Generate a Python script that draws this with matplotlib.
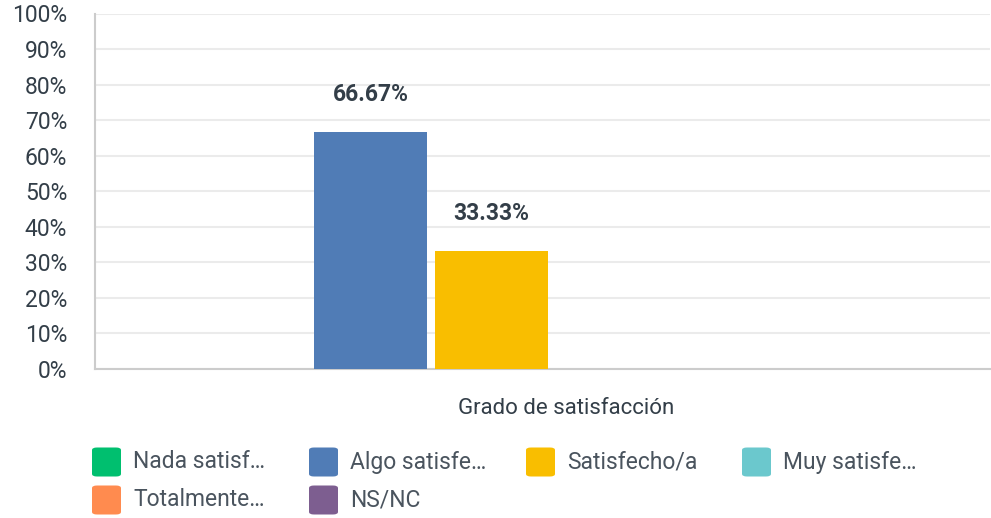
import numpy as np
import matplotlib.pyplot as plt
from matplotlib.patches import FancyBboxPatch

plt.rcParams['font.family'] = ['Roboto', 'DejaVu Sans']

category = 'Grado de satisfacción'
series = ['Nada satisf…', 'Algo satisfe…', 'Satisfecho/a', 'Muy satisfe…',
          'Totalmente…', 'NS/NC']
values = [0.0, 66.67, 33.33, 0.0, 0.0, 0.0]
colors = ['#00bf6f', '#507cb6', '#f9be00', '#6bc8cd', '#ff8b4f', '#7d5e90']
yticks = np.arange(0, 101, 10)

text_col = '#333e48'

fig = plt.figure(figsize=(9.91, 5.18), dpi=100)
ax = fig.add_axes([95 / 991, 1 - 369 / 518, 895 / 991, (369 - 13.5) / 518])

n = len(series)
offsets = np.arange(n) - (n - 1) / 2
width = 0.934
for off, v, c in zip(offsets, values, colors):
    ax.bar(off, v, width=width, color=c, zorder=3)
    if v > 0:
        ax.text(off, v + 10.5, f'{v:.2f}%', ha='center', va='center',
                fontsize=16.5, fontweight='bold', color=text_col)

ax.set_xlim(-3.777, 3.62)
ax.set_ylim(0, 100)
ax.set_yticks(yticks)
ax.set_yticklabels([f'{t}%' for t in yticks], fontsize=16.5, color=text_col)
ax.tick_params(axis='y', length=0, pad=20)
ax.set_xticks([])
ax.grid(axis='y', color='#ebebeb', linewidth=1.5, zorder=0)
for s in ['top', 'right']:
    ax.spines[s].set_visible(False)
for s in ['left', 'bottom']:
    ax.spines[s].set_color('#cccccc')
    ax.spines[s].set_linewidth(1.5)

fig.text(566 / 991, 1 - 408 / 518, category, ha='center', va='center',
         fontsize=16, color=text_col)

# legend: 4 columns, rounded squares
col_x = [92, 309, 526, 742]
row_y = [462, 500]
sq = 29
for i, (name, c) in enumerate(zip(series, colors)):
    x = col_x[i % 4]
    y = row_y[i // 4]
    box = FancyBboxPatch((x / 991, (518 - y - sq / 2) / 518), sq / 991, sq / 518,
                         boxstyle='round,pad=0,rounding_size=0.005',
                         transform=fig.transFigure, facecolor=c,
                         edgecolor='none')
    fig.patches.append(box)
    fig.text((x + 41) / 991, 1 - y / 518, name, ha='left', va='center',
             fontsize=16.5, color='#4a545e')

fig.savefig('out.png', dpi=100)
